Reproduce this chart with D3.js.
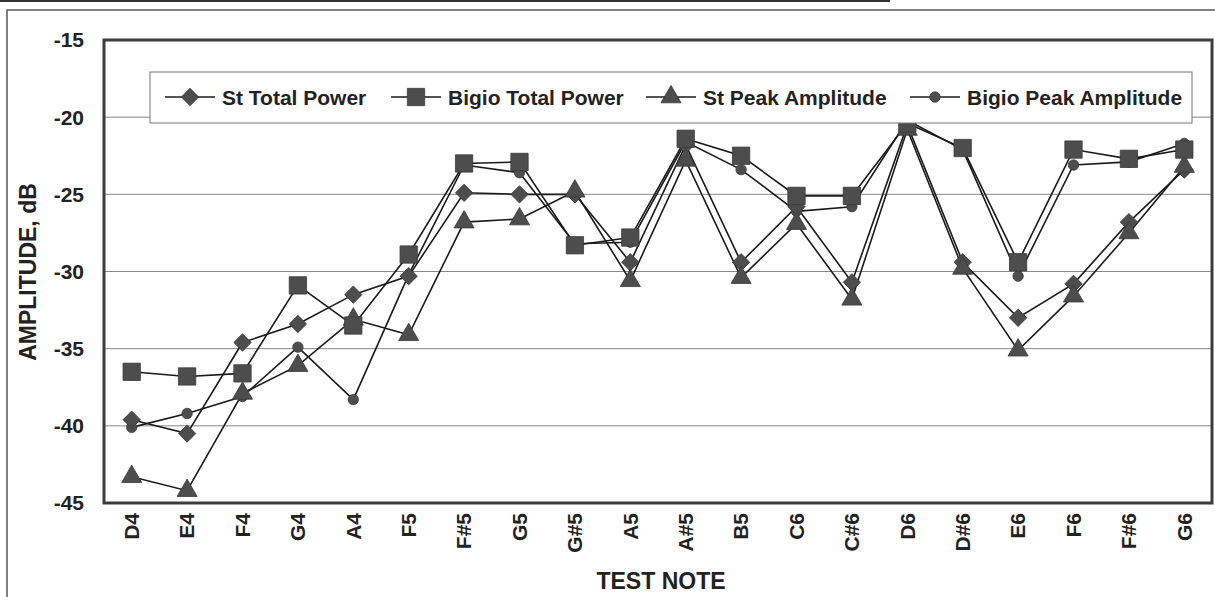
<!DOCTYPE html>
<html lang="en">
<head>
<meta charset="UTF-8">
<title>Amplitude by test note</title>
<script src="https://d3js.org/d3.v7.min.js"></script>
<style>
    body{ margin:0; background:#fff; }
    svg text{ font-family:"Liberation Sans", Arial, sans-serif; font-weight:bold; fill:#222; }
</style>
</head>
<body>
<svg id="canvas" width="1215" height="597"></svg>
<script>
    // data
    let notes = ["D4","E4","F4","G4","A4","F5","F#5","G5","G#5","A5","A#5","B5","C6","C#6","D6","D#6","E6","F6","F#6","G6"];
    let stTotal    = [-39.6,-40.5,-34.6,-33.4,-31.5,-30.3,-24.9,-25.0,-25.0,-29.4,-21.8,-29.4,-25.8,-30.7,-20.5,-29.4,-33.0,-30.8,-26.8,-23.4];
    let bigioTotal = [-36.5,-36.8,-36.6,-30.9,-33.5,-28.9,-23.0,-22.9,-28.3,-27.8,-21.4,-22.5,-25.1,-25.1,-20.4,-22.0,-29.4,-22.1,-22.7,-22.1];
    let stPeak     = [-43.3,-44.2,-37.9,-36.1,-33.1,-34.1,-26.8,-26.6,-24.8,-30.6,-22.8,-30.4,-26.9,-31.8,-20.8,-29.8,-35.1,-31.6,-27.5,-23.2];
    let bigioPeak  = [-40.1,-39.2,-38.1,-34.9,-38.3,-30.2,-23.1,-23.6,-28.2,-28.1,-21.6,-23.4,-26.1,-25.8,-20.2,-22.1,-30.3,-23.1,-22.9,-21.7];
    let yTicks = [-15,-20,-25,-30,-35,-40,-45];
    let seriesNames = ["St Total Power","Bigio Total Power","St Peak Amplitude","Bigio Peak Amplitude"];

    let svg = d3.select('svg');
    let plotLeft = 104, plotTop = 40, plotW = 1108, plotH = 463;

    let x = d3.scalePoint().domain(notes).range([plotLeft, plotLeft + plotW]).padding(0.5);
    let y = d3.scaleLinear().domain([-45,-15]).range([plotTop + plotH, plotTop]);

    // outer frame of the figure
    svg.append('line').attr('x1',0).attr('x2',890).attr('y1',1).attr('y2',1).attr('stroke','#333').attr('stroke-width',2);
    svg.append('path').attr('d','M7,597 V10 H1215').attr('fill','none').attr('stroke','#555').attr('stroke-width',1.5);

    // gridlines
    svg.append('g').selectAll('line')
        .data(yTicks.slice(1,-1))
        .enter().append('line')
        .attr('x1',plotLeft).attr('x2',plotLeft+plotW)
        .attr('y1',d=>y(d)).attr('y2',d=>y(d))
        .attr('stroke','#888').attr('stroke-width',1);

    // y tick labels
    svg.append('g').selectAll('text')
        .data(yTicks)
        .enter().append('text')
        .attr('x',84).attr('y',d=>y(d)).attr('dy','0.35em')
        .attr('text-anchor','end').style('font-size','21px')
        .text(d=>d);

    // x tick labels
    svg.append('g').selectAll('text')
        .data(notes)
        .enter().append('text')
        .attr('transform',d=>'translate('+x(d)+',513) rotate(-90)')
        .attr('dy','0.35em').attr('text-anchor','end')
        .style('font-size','21px')
        .text(d=>d);

    svg.append('text').attr('x',661).attr('y',589).attr('text-anchor','middle')
        .style('font-size','23px').text('TEST NOTE');
    svg.append('text').attr('transform','translate(28,272) rotate(-90)')
        .attr('dy','0.35em').attr('text-anchor','middle')
        .style('font-size','23px').text('AMPLITUDE, dB');

    // marker shapes
    let shapes = {
        diamond: d3.symbol().type(d3.symbolSquare).size(150),
        square: d3.symbol().type(d3.symbolSquare).size(300),
        triangle: d3.symbol().type(d3.symbolTriangle).size(175),
        circle: d3.symbol().type(d3.symbolCircle).size(85)
    };
    function marker(g, shape){
        let p = g.append('path').attr('d',shapes[shape]())
            .attr('fill','#4d4d4d').attr('stroke','#3a3a3a').attr('stroke-width',0.8);
        if(shape==='diamond') p.attr('transform','rotate(45)');
        return p;
    }

    let series = [
        {name:seriesNames[0], values:stTotal, shape:'diamond'},
        {name:seriesNames[1], values:bigioTotal, shape:'square'},
        {name:seriesNames[2], values:stPeak, shape:'triangle'},
        {name:seriesNames[3], values:bigioPeak, shape:'circle'}
    ];

    let line = d3.line().x((d,i)=>x(notes[i])).y(d=>y(d));
    let plot = svg.append('g');
    series.forEach(s=>{
        plot.append('path').attr('d',line(s.values))
            .attr('fill','none').attr('stroke','#1a1a1a').attr('stroke-width',1.6);
    });
    // markers: circles at the back, squares on top
    ['circle','diamond','triangle','square'].forEach(shape=>{
        let s = series.find(d=>d.shape===shape);
        s.values.forEach((v,i)=>{
            let g = plot.append('g').attr('transform','translate('+x(notes[i])+','+y(v)+')');
            marker(g, shape);
        });
    });

    // plot frame
    svg.append('rect').attr('x',plotLeft).attr('y',plotTop).attr('width',plotW).attr('height',plotH)
        .attr('fill','none').attr('stroke','#3c3c3c').attr('stroke-width',3);

    // legend
    let legend = svg.append('g');
    legend.append('rect').attr('x',150).attr('y',72).attr('width',1042).attr('height',51)
        .attr('fill','#fff').attr('stroke','#777').attr('stroke-width',1);
    let legendX = [165,391,646,910];
    series.forEach((s,i)=>{
        let g = legend.append('g').attr('transform','translate('+legendX[i]+',97)');
        g.append('line').attr('x1',0).attr('x2',50).attr('stroke','#1a1a1a').attr('stroke-width',1.6);
        marker(g.append('g').attr('transform','translate(25,0)'), s.shape);
        g.append('text').attr('x',57).attr('dy','0.36em').style('font-size','21px').text(s.name);
    });
</script>
</body>
</html>
